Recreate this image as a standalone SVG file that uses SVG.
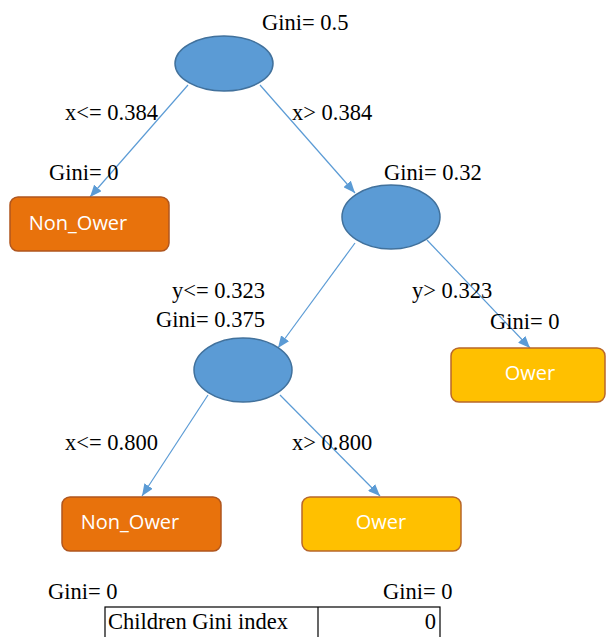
<svg xmlns="http://www.w3.org/2000/svg" width="606" height="637" viewBox="0 0 606 637">
  <defs>
    <marker id="arrow" viewBox="0 0 12 10" refX="12" refY="5" markerWidth="12" markerHeight="10" markerUnits="userSpaceOnUse" orient="auto">
      <path d="M0,0 L12,5 L0,10 Z" fill="#5B9BD5"/>
    </marker>
    <style>
      .split { fill: #5B9BD5; stroke: #41719C; stroke-width: 1.5; }
      .no { fill: #E8720C; stroke: #B0561E; stroke-width: 1.5; }
      .yes { fill: #FFC000; stroke: #B8672A; stroke-width: 1.5; }
      .leaf-text { font-family: "Open Sans", "DejaVu Sans", sans-serif; font-size: 20px; fill: #FFFFFF; text-anchor: middle; }
      .lbl { font-family: "Liberation Serif", "Times New Roman", serif; font-size: 22.5px; fill: #000000; }
      .edge { stroke: #5B9BD5; stroke-width: 1.2; fill: none; marker-end: url(#arrow); }
    </style>
  </defs>
  <rect width="606" height="637" fill="#FFFFFF"/>

  <!-- connectors -->
  <g id="connectors">
    <line class="edge" x1="188" y1="85" x2="90" y2="197"/>
    <line class="edge" x1="260" y1="85" x2="355" y2="193"/>
    <line class="edge" x1="355" y1="243" x2="278" y2="348"/>
    <line class="edge" x1="427" y1="240" x2="530" y2="348"/>
    <line class="edge" x1="208" y1="395" x2="142" y2="496"/>
    <line class="edge" x1="280" y1="395" x2="380" y2="496"/>
  </g>

  <!-- root split -->
  <g id="root">
    <ellipse class="split" cx="224" cy="63.5" rx="49" ry="27.5"/>
    <text class="lbl" x="262" y="30">Gini= 0.5</text>
  </g>

  <!-- edge labels -->
  <g id="edge-labels">
    <text class="lbl" x="65" y="120">x&lt;= 0.384</text>
    <text class="lbl" x="292" y="120">x&gt; 0.384</text>
    <text class="lbl" x="412" y="298">y&gt; 0.323</text>
    <text class="lbl" x="172" y="298">y&lt;= 0.323</text>
    <text class="lbl" x="65" y="450">x&lt;= 0.800</text>
    <text class="lbl" x="292" y="450">x&gt; 0.800</text>
  </g>

  <!-- left leaf: Non_Ower -->
  <g id="leaf-left">
    <text class="lbl" x="49" y="180">Gini= 0</text>
    <rect class="no" x="10" y="197" width="159" height="54" rx="8"/>
    <text class="leaf-text" x="78" y="230">Non_Ower</text>
  </g>

  <!-- second split -->
  <g id="split-y">
    <ellipse class="split" cx="391" cy="217" rx="49" ry="32"/>
    <text class="lbl" x="384" y="180">Gini= 0.32</text>
  </g>

  <!-- right leaf: Ower -->
  <g id="leaf-right">
    <text class="lbl" x="490" y="329">Gini= 0</text>
    <rect class="yes" x="451" y="348" width="154" height="54" rx="8"/>
    <text class="leaf-text" x="530" y="380">Ower</text>
  </g>

  <!-- third split -->
  <g id="split-x">
    <ellipse class="split" cx="243" cy="370" rx="49" ry="32"/>
    <text class="lbl" x="156" y="327">Gini= 0.375</text>
  </g>

  <!-- bottom leaves -->
  <g id="leaf-bottom-left">
    <rect class="no" x="62" y="497" width="159" height="54" rx="8"/>
    <text class="leaf-text" x="130" y="529">Non_Ower</text>
    <text class="lbl" x="48" y="599">Gini= 0</text>
  </g>
  <g id="leaf-bottom-right">
    <rect class="yes" x="302" y="497" width="159" height="54" rx="8"/>
    <text class="leaf-text" x="381" y="529">Ower</text>
    <text class="lbl" x="383" y="599">Gini= 0</text>
  </g>

  <!-- summary table -->
  <g id="table">
    <rect x="105" y="607" width="335" height="32" fill="none" stroke="#000000" stroke-width="1.2"/>
    <line x1="318" y1="607" x2="318" y2="639" stroke="#000000" stroke-width="1.2"/>
    <text class="lbl" x="108" y="629">Children Gini index</text>
    <text class="lbl" x="436" y="629" text-anchor="end">0</text>
  </g>
</svg>
